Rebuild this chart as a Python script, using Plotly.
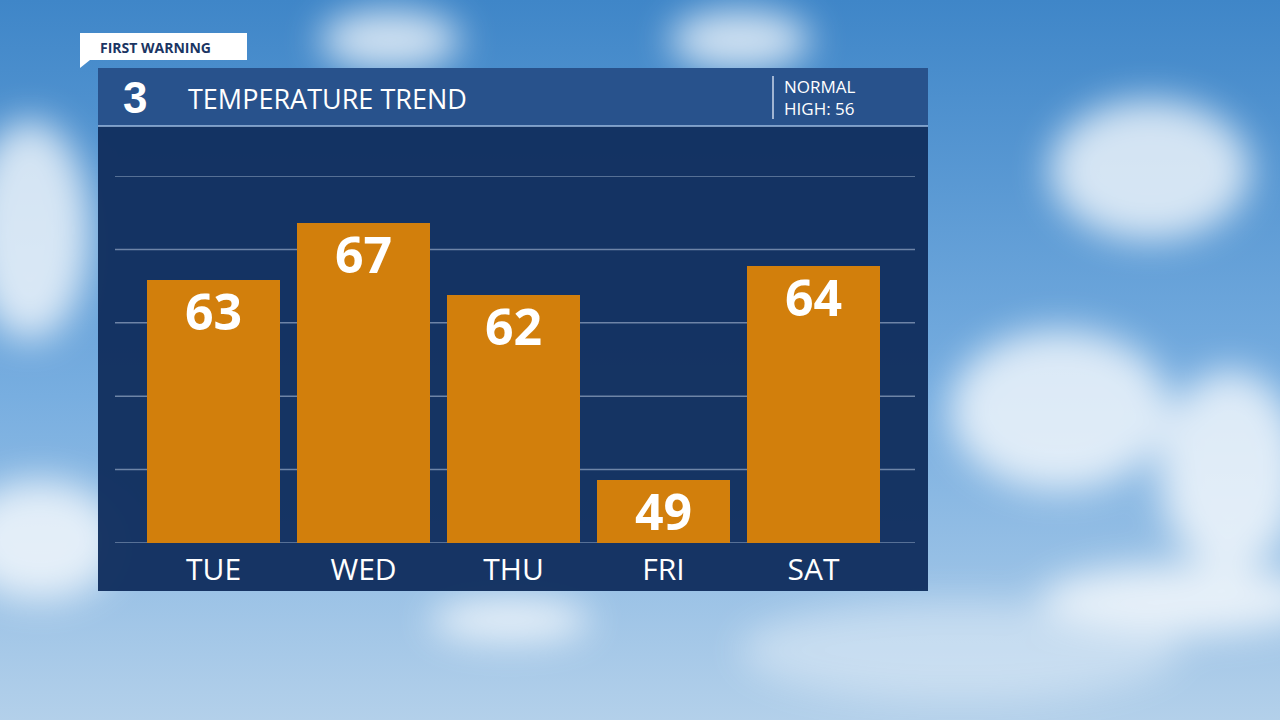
import base64
import plotly.graph_objects as go

days = ["TUE", "WED", "THU", "FRI", "SAT"]
highs = [63, 67, 62, 49, 64]
normal_high = 56

y_lo, y_hi = 44.6, 70.3
grid_vals = [y_lo + i * (y_hi - y_lo) / 5 for i in range(6)]
x_pos = list(range(len(days)))

# sky background as an inline svg (no network)
svg = """<svg xmlns='http://www.w3.org/2000/svg' width='1280' height='720'>
<defs>
<linearGradient id='g' x1='0' y1='0' x2='0' y2='1'>
<stop offset='0' stop-color='#3f86c8'/><stop offset='0.55' stop-color='#78aee0'/><stop offset='1' stop-color='#b3d0ea'/>
</linearGradient>
<filter id='b'><feGaussianBlur stdDeviation='18'/></filter>
</defs>
<rect width='1280' height='720' fill='url(#g)'/>
<g fill='white' filter='url(#b)' opacity='0.75'>
<ellipse cx='1150' cy='170' rx='100' ry='70'/>
<ellipse cx='1060' cy='410' rx='110' ry='80'/>
<ellipse cx='1230' cy='470' rx='70' ry='100'/>
<ellipse cx='1180' cy='600' rx='140' ry='35'/>
<ellipse cx='30' cy='230' rx='60' ry='110'/>
<ellipse cx='40' cy='540' rx='80' ry='60'/>
<ellipse cx='390' cy='40' rx='70' ry='30'/>
<ellipse cx='740' cy='40' rx='70' ry='30'/>
<ellipse cx='510' cy='620' rx='80' ry='22'/>
<ellipse cx='960' cy='650' rx='220' ry='50' opacity='0.5'/>
</g>
</svg>"""
bg = "data:image/svg+xml;base64," + base64.b64encode(svg.encode()).decode()

fig = go.Figure()
fig.add_trace(go.Bar(
    x=x_pos, y=[h - y_lo for h in highs], base=y_lo, width=0.887,
    marker=dict(color="#d27f0c", line=dict(width=0)),
    hoverinfo="skip",
))

fig.update_layout(
    width=1280, height=720,
    margin=dict(l=115, r=365, t=176, b=177),
    paper_bgcolor="#6aa3d8", plot_bgcolor="rgba(0,0,0,0)",
    showlegend=False, bargap=0,
    font=dict(family="Open Sans", color="white"),
    xaxis=dict(range=[-0.657, 4.677], tickvals=x_pos, ticktext=days,
               showgrid=False, zeroline=False, showline=False, ticklabelstandoff=6,
               tickfont=dict(size=30, color="white"), ticks="", ticklen=0),
    yaxis=dict(range=[y_lo, y_hi], showgrid=False, showticklabels=False,
               zeroline=False, showline=False),
    images=[dict(source=bg, xref="paper", yref="paper", x=-115/800, y=1+176/367,
                 sizex=1280/800, sizey=720/367, sizing="stretch", layer="below",
                 xanchor="left", yanchor="top")],
)

def px(x):
    return (x - 115) / 800

def py(y):
    return (543 - y) / 367

shapes = [
    dict(type="rect", xref="paper", yref="paper", x0=px(98), x1=px(928), y0=py(591), y1=py(68),
         fillcolor="rgba(18,48,95,0.97)", line=dict(width=0), layer="below"),
    dict(type="rect", xref="paper", yref="paper", x0=px(98), x1=px(928), y0=py(126), y1=py(68),
         fillcolor="rgba(40,82,140,1)", line=dict(width=0), layer="below"),
    dict(type="line", xref="paper", yref="paper", x0=px(98), x1=px(928), y0=py(126), y1=py(126),
         line=dict(color="rgba(170,200,235,0.9)", width=1.5)),
    dict(type="line", xref="paper", yref="paper", x0=px(773), x1=px(773), y0=py(76), y1=py(119),
         line=dict(color="rgba(220,230,245,0.9)", width=1.5)),
    dict(type="rect", xref="paper", yref="paper", x0=px(80), x1=px(247), y0=py(60), y1=py(33),
         fillcolor="white", line=dict(width=0)),
    dict(type="path", xref="paper", yref="paper",
         path=f"M {px(80)} {py(60)} L {px(90)} {py(60)} L {px(80)} {py(68)} Z",
         fillcolor="white", line=dict(width=0)),
]
for g in grid_vals:
    shapes.append(dict(type="line", xref="paper", yref="y", x0=0, x1=1, y0=g, y1=g,
                       line=dict(color="rgba(140,160,190,0.75)", width=1.5), layer="below"))
fig.update_layout(shapes=shapes)

ann = [
    dict(text="FIRST WARNING", x=px(98), y=py(47), xanchor="left", yanchor="middle",
         font=dict(size=14, color="#1b3563", weight="bold")),
    dict(text="3", x=px(121), y=py(97), xanchor="left", yanchor="middle",
         font=dict(size=44, color="white", family="Liberation Sans", weight="bold")),
    dict(text="TEMPERATURE TREND", x=px(186), y=py(99), xanchor="left", yanchor="middle",
         font=dict(size=27, color="white")),
    dict(text="NORMAL<br>HIGH: " + str(normal_high), x=px(782), y=py(98), xanchor="left",
         yanchor="middle", align="left", font=dict(size=17, color="white")),
]
for a in ann:
    a.update(xref="paper", yref="paper", showarrow=False)
for i, h in zip(x_pos, highs):
    ann.append(dict(text=str(h), x=i, y=h, xref="x", yref="y", showarrow=False,
                    xanchor="center", yanchor="middle", yshift=-31, borderpad=0,
                    font=dict(family="Open Sans", size=50, color="white", weight="bold")))
fig.update_layout(annotations=ann)

fig.write_html("out.html", config={"displayModeBar": False},
               post_script="document.body.style.margin='0';document.body.style.overflow='hidden';")
